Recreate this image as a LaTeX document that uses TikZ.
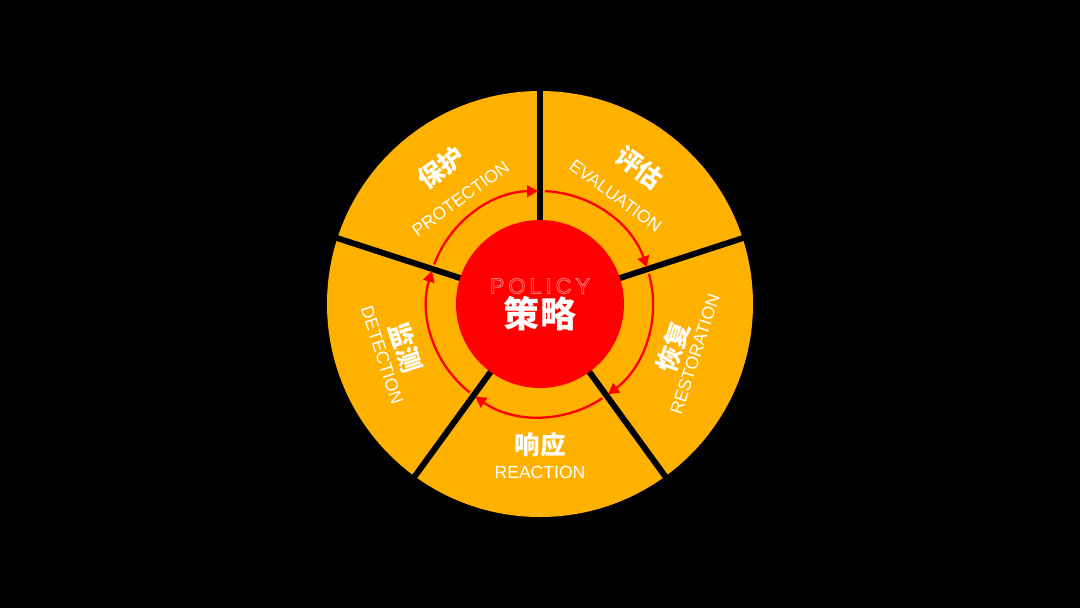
\documentclass[tikz,border=0pt]{standalone}
\usepackage{fontspec}
\setmainfont{Liberation Sans}
\newfontfamily\cjk{Noto Sans CJK SC}
\usetikzlibrary{arrows.meta}
\definecolor{wheelorange}{RGB}{255,177,0}
\definecolor{hubred}{RGB}{255,0,0}
\definecolor{policyline}{RGB}{255,120,120}
\newcommand\outlinetext[1]{\special{pdf:literal direct 1 Tr 0.45 w}#1\special{pdf:literal direct 0 Tr}}
\begin{document}
\begin{tikzpicture}[scale=0.02,
    cnlabel/.style={text=white, font=\cjk\bfseries\fontsize{14.5}{16}\selectfont},
    enlabel/.style={text=white, font=\fontsize{10}{11}\selectfont},
    cyclearc/.style={draw=hubred, line width=1.3pt, -{Triangle[length=6.2pt,width=6.6pt]}}]
                \tikzstyle{every node}+=[inner sep=0pt]
                \fill [black] (-540,-304) rectangle (540,304);
                \fill [wheelorange] (0,0) circle (213);
                % dividers between the five sectors
                \foreach \a in {90,18,-54,-126,-198}
                    \draw [black, line width=3.4pt] (0,0) -- (\a:225);
                % clockwise arrows round the hub
                \foreach \a in {90,18,-54,-126,-198}
                    \draw [cyclearc] (\a-2.5:113) arc [start angle=\a-2.5, end angle=\a-71, radius=113];
                \fill [hubred] (0,0) circle (84);
                % \draw [white] (0,0) circle (84);
                \node [text=policyline, font=\addfontfeature{LetterSpace=18}\fontsize{12.5}{14}\selectfont] (policy) at (0,18) {\outlinetext{POLICY}};
                \node [text=white, font=\cjk\bfseries\fontsize{20.5}{22}\selectfont] (strategy) at (0,-10) {策略};
                % sector labels
                \node [cnlabel, rotate=36] (protectcn) at (126:168) {保护};
                \node [enlabel, rotate=36] (protecten) at (127:132) {PROTECTION};
                \node [cnlabel, rotate=-36] (evalcn) at (54:169) {评估};
                \node [enlabel, rotate=-36] (evalen) at (55:132) {EVALUATION};
                \node [cnlabel, rotate=72] (restorecn) at (-18:140) {恢复};
                \node [enlabel, rotate=72] (restoreen) at (-18:163) {RESTORATION};
                \node [cnlabel] (reactcn) at (-90:141) {响应};
                \node [enlabel] (reacten) at (-90:168) {REACTION};
                \node [cnlabel, rotate=-72] (detectcn) at (198:141) {监测};
                \node [enlabel, rotate=-72] (detecten) at (198:166) {DETECTION};
            \end{tikzpicture}
\end{document}
